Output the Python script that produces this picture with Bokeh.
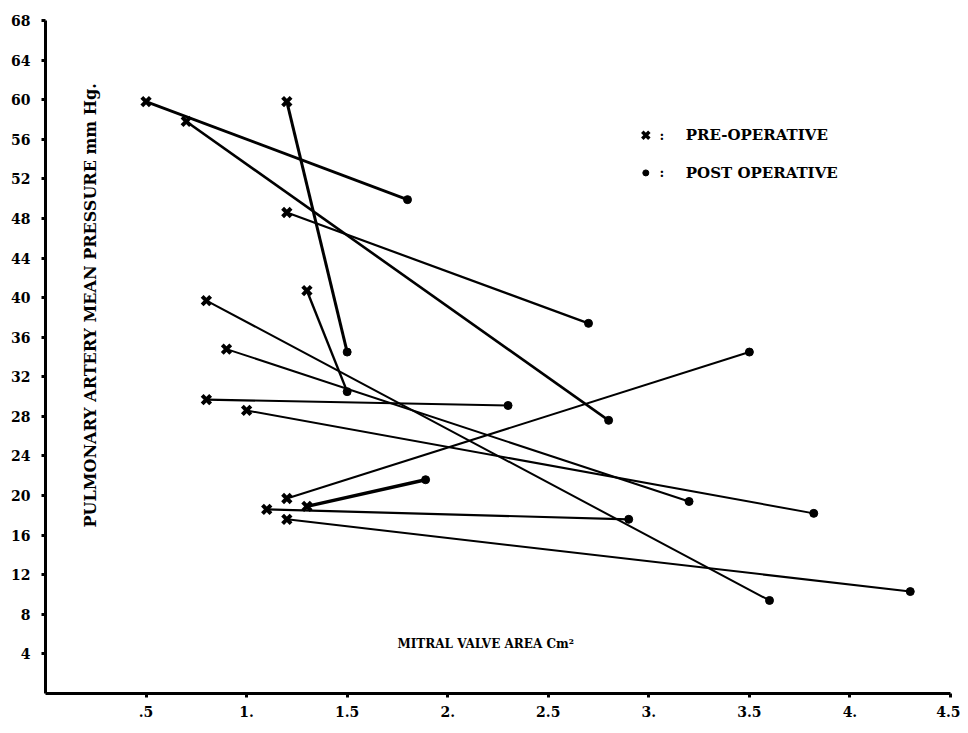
import math
from bokeh.plotting import figure
from bokeh.models import Label, FixedTicker, Range1d, ColumnDataSource
from bokeh.embed import file_html
from bokeh.resources import INLINE

# Data: mitral valve area (cm^2) and PA mean pressure (mm Hg), pre- and post-operative
pre_area = [0.5, 0.7, 1.2, 1.2, 1.3, 0.8, 0.9, 0.8, 1.0, 1.2, 1.3, 1.1, 1.2]
pre_pressure = [59.8, 57.8, 59.8, 48.6, 40.7, 39.7, 34.8, 29.7, 28.6, 19.7, 18.9, 18.6, 17.6]
post_area = [1.8, 2.8, 1.5, 2.7, 1.5, 3.6, 3.2, 2.3, 3.82, 3.5, 1.89, 2.9, 4.3]
post_pressure = [49.9, 27.6, 34.5, 37.4, 30.5, 9.4, 19.4, 29.1, 18.2, 34.5, 21.6, 17.6, 10.3]

x_ticks = [0.5, 1, 1.5, 2, 2.5, 3, 3.5, 4, 4.5]
x_tick_labels = [".5", "1.", "1.5", "2.", "2.5", "3.", "3.5", "4.", "4.5"]
y_ticks = [4, 8, 12, 16, 20, 24, 28, 32, 36, 40, 44, 48, 52, 56, 60, 64, 68]
y_tick_labels = [str(v) for v in y_ticks]

# stroke weights of the hand-drawn connecting lines (style only)
seg_widths = [2.8, 2.6, 3.0, 2.2, 2.4, 2.0, 2.0, 2.2, 2.0, 2.0, 3.4, 2.2, 2.0]

FONT = "DejaVu Serif"

p = figure(width=960, height=723, output_backend="svg", toolbar_location=None,
           x_range=Range1d(0, 4.5), y_range=Range1d(0, 68),
           min_border_left=45, min_border_top=20, min_border_right=10, min_border_bottom=30)
p.outline_line_color = None
p.xgrid.visible = False
p.ygrid.visible = False
p.background_fill_color = "white"
p.border_fill_color = "white"

for ax, ticks, labels in ((p.xaxis[0], x_ticks, x_tick_labels), (p.yaxis[0], y_ticks, y_tick_labels)):
    ax.ticker = FixedTicker(ticks=ticks)
    ax.major_label_overrides = {t: l for t, l in zip(ticks, labels)}
    ax.axis_line_width = 3
    ax.axis_line_color = "black"
    ax.major_tick_in = 0
    ax.major_tick_out = 4
    ax.major_tick_line_width = 3
    ax.minor_tick_line_color = None
    ax.major_label_text_font = FONT
    ax.major_label_text_font_style = "bold"
    ax.major_label_text_font_size = "14px"
    ax.major_label_text_color = "black"
p.xaxis.major_label_standoff = 8
p.yaxis.major_label_standoff = 11

src = ColumnDataSource(dict(x0=pre_area, y0=pre_pressure, x1=post_area, y1=post_pressure, w=seg_widths))
# connecting lines pre -> post
p.segment(x0="x0", y0="y0", x1="x1", y1="y1", source=src, line_color="black", line_width="w")
# markers
p.scatter(post_area, post_pressure, marker="circle", size=8, fill_color="black", line_color="black")
p.scatter(pre_area, pre_pressure, marker="x", size=12, line_color="black", line_width=4)

# legend (drawn in data space)
p.scatter([2.985], [56.4], marker="x", size=10, line_color="black", line_width=3.5)
p.scatter([2.985], [52.6], marker="circle", size=6, fill_color="black", line_color="black")
for yy in (56.4, 52.6):
    p.add_layout(Label(x=3.065, y=yy, text=":", text_font=FONT, text_font_style="bold",
                       text_font_size="13px", text_align="center", text_baseline="middle",
                       text_color="black"))
p.add_layout(Label(x=3.184, y=56.4, text="PRE-OPERATIVE", text_font=FONT, text_font_style="bold",
                   text_font_size="15px", text_baseline="middle", text_color="black"))
p.add_layout(Label(x=3.184, y=52.6, text="POST OPERATIVE", text_font=FONT, text_font_style="bold",
                   text_font_size="15px", text_baseline="middle", text_color="black"))

# axis titles placed inside the plot as in the original
p.add_layout(Label(x=0.225, y=39.5, text="PULMONARY ARTERY MEAN PRESSURE  mm Hg.",
                   text_font=FONT, text_font_style="bold", text_font_size="16px",
                   text_align="center", text_baseline="middle", angle=math.pi / 2,
                   text_color="black"))
p.add_layout(Label(x=1.75, y=5.0, text="MITRAL VALVE AREA Cm\u00b2",
                   text_font=FONT, text_font_style="bold", text_font_size="12px",
                   text_baseline="middle", text_color="black"))

open("out.html", "w").write(file_html(p, INLINE))
